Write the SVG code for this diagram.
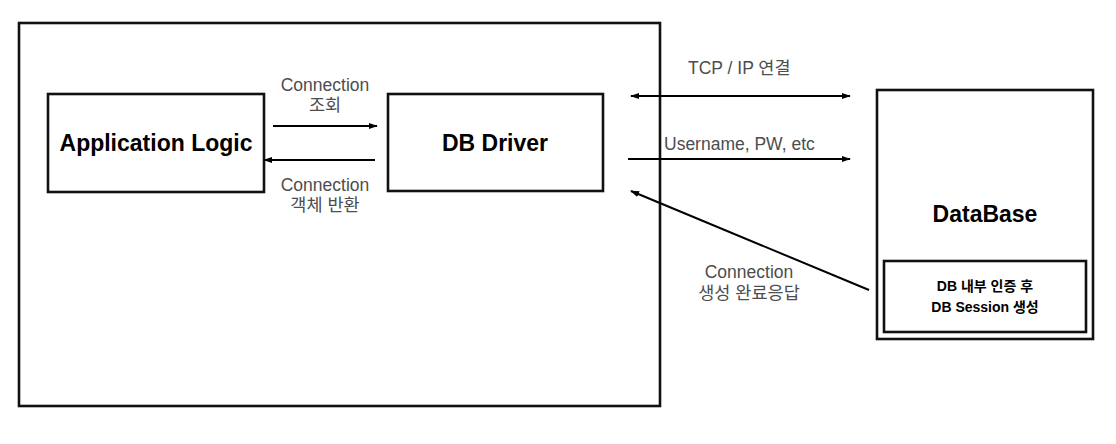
<svg xmlns="http://www.w3.org/2000/svg" width="1116" height="444" viewBox="0 0 1116 444">
<style>
.box{fill:none;stroke:#111;stroke-width:2.6}
.edge{stroke:#000;stroke-width:2;fill:none}
.lbl{font-family:"Liberation Sans","Noto Sans CJK KR",sans-serif;font-size:17.5px;fill:#4d4d4d}
.title{font-family:"Liberation Sans","Noto Sans CJK KR",sans-serif;font-weight:bold;fill:#000}
</style>
<defs>
<marker id="ah" viewBox="0 0 10 10" refX="9" refY="5" markerWidth="4.5" markerHeight="4.5" orient="auto-start-reverse" markerUnits="strokeWidth">
<path d="M0,1.5 L10,5 L0,8.5 Z" fill="#000"/>
</marker>
</defs>
<rect width="1116" height="444" fill="#fff"/>
<g id="client">
<rect class="box" x="19" y="23" width="641" height="383"/>
</g>
<g id="app-logic">
<rect class="box" x="48" y="94" width="216" height="98"/>
<text class="title" x="156" y="151" font-size="23" text-anchor="middle">Application Logic</text>
</g>
<g id="db-driver">
<rect class="box" x="388" y="94" width="215" height="97"/>
<text class="title" x="495" y="151" font-size="23" text-anchor="middle">DB Driver</text>
</g>
<g id="database">
<rect class="box" x="877" y="90" width="216" height="249"/>
<text class="title" x="985" y="222" font-size="23" text-anchor="middle">DataBase</text>
</g>
<g id="db-session">
<rect class="box" x="884" y="261" width="202" height="71"/>
<text class="title" x="985" y="291" font-size="14" text-anchor="middle">DB 내부 인증 후</text>
<text class="title" x="985" y="312" font-size="14" text-anchor="middle">DB Session 생성</text>
</g>
<g id="connectors">
<line class="edge" x1="273" y1="126" x2="377" y2="126" marker-end="url(#ah)"/>
<line class="edge" x1="375" y1="160" x2="264" y2="160" marker-end="url(#ah)"/>
<line class="edge" x1="631" y1="96" x2="850" y2="96" marker-start="url(#ah)" marker-end="url(#ah)"/>
<line class="edge" x1="628" y1="159" x2="850" y2="159" marker-end="url(#ah)"/>
<line class="edge" x1="869" y1="290" x2="631" y2="191" marker-end="url(#ah)"/>
</g>
<g id="labels">
<text class="lbl" x="325" y="91" text-anchor="middle">Connection</text>
<text class="lbl" x="325" y="111" text-anchor="middle">조회</text>
<text class="lbl" x="325" y="191" text-anchor="middle">Connection</text>
<text class="lbl" x="325" y="211" text-anchor="middle">객체 반환</text>
<text class="lbl" x="688" y="74">TCP / IP 연결</text>
<text class="lbl" x="664" y="150">Username, PW, etc</text>
<text class="lbl" x="749" y="278" text-anchor="middle">Connection</text>
<text class="lbl" x="749" y="299" text-anchor="middle">생성 완료응답</text>
</g>
</svg>
